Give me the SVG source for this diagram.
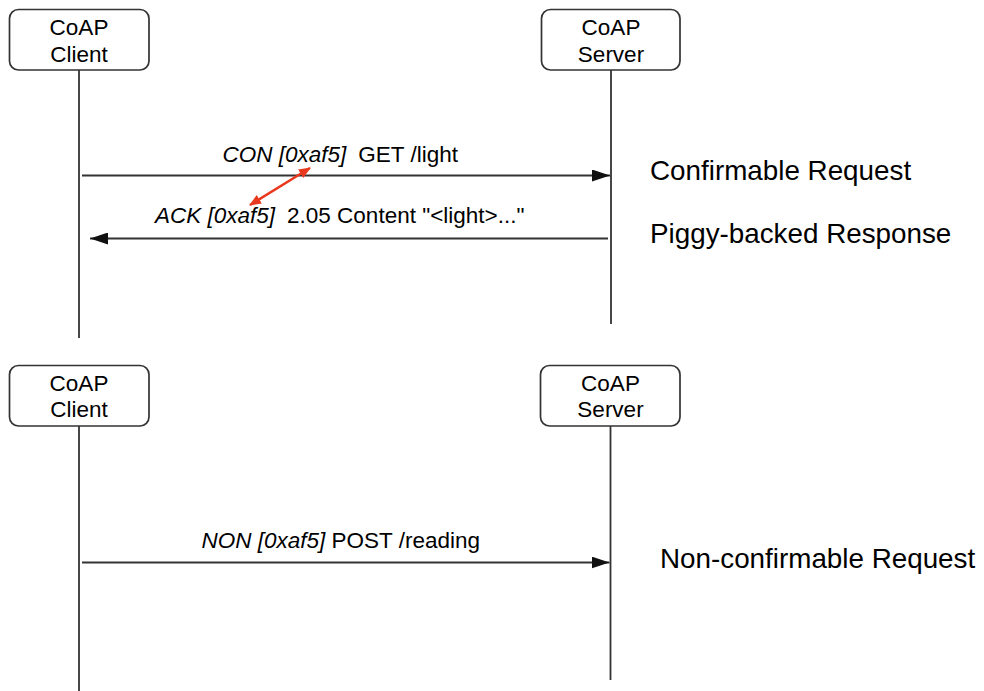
<svg xmlns="http://www.w3.org/2000/svg" width="984" height="691" viewBox="0 0 984 691">
<defs>
<style>
.box{fill:#fff;stroke:#333;stroke-width:1.7}
.life{stroke:#333;stroke-width:1.8;fill:none}
.msg{stroke:#333;stroke-width:1.8;fill:none}
.nt{font-family:"Liberation Sans",Arial,sans-serif;font-size:22.5px;fill:#000;text-anchor:middle}
.ml{font-family:"Liberation Sans",Arial,sans-serif;font-size:22.5px;fill:#000}
.it{font-style:italic}
.side{font-family:"Liberation Sans",Arial,sans-serif;font-size:27.8px;fill:#000}
</style>
<marker id="ah" viewBox="0 0 18 12" refX="18" refY="6" markerWidth="18" markerHeight="12" markerUnits="userSpaceOnUse" orient="auto">
<path d="M0,0 L18,6 L0,12 Z" fill="#111"/>
</marker>
<marker id="rh" viewBox="0 0 12 10" refX="11" refY="5" markerWidth="12" markerHeight="10" markerUnits="userSpaceOnUse" orient="auto-start-reverse">
<path d="M0,0 L12,5 L0,10 Z" fill="#e8391e"/>
</marker>
</defs>

<g id="client-top">
<rect class="box" x="9.5" y="9.5" width="139.5" height="60.5" rx="9"/>
<text class="nt" x="79" y="35">CoAP</text>
<text class="nt" x="79" y="62">Client</text>
</g>
<g id="server-top">
<rect class="box" x="541.5" y="9.5" width="138.5" height="60.5" rx="9"/>
<text class="nt" x="611" y="35">CoAP</text>
<text class="nt" x="611" y="62">Server</text>
</g>
<g id="client-bottom">
<rect class="box" x="9.5" y="365.5" width="139.5" height="60.5" rx="9"/>
<text class="nt" x="79" y="391">CoAP</text>
<text class="nt" x="79" y="417">Client</text>
</g>
<g id="server-bottom">
<rect class="box" x="540.5" y="365.5" width="139.5" height="60.5" rx="9"/>
<text class="nt" x="610.5" y="391">CoAP</text>
<text class="nt" x="610.5" y="417">Server</text>
</g>

<g id="connectors">
<line class="life" x1="79" y1="70" x2="79" y2="338"/>
<line class="life" x1="611" y1="70" x2="611" y2="324"/>
<line class="life" x1="79" y1="426" x2="79" y2="691"/>
<line class="life" x1="610.5" y1="426" x2="610.5" y2="680"/>
<line class="msg" x1="82" y1="175.5" x2="610" y2="175.5" marker-end="url(#ah)"/>
<line class="msg" x1="608" y1="238.5" x2="90" y2="238.5" marker-end="url(#ah)"/>
<line class="msg" x1="82" y1="562.5" x2="609.5" y2="562.5" marker-end="url(#ah)"/>
<line x1="310" y1="168" x2="250" y2="205" stroke="#e8391e" stroke-width="2.5" marker-start="url(#rh)" marker-end="url(#rh)"/>
</g>

<g id="labels">
<text class="ml" x="222.5" y="161.5"><tspan class="it">CON [0xaf5]</tspan><tspan dx="12">GET /light</tspan></text>
<text class="ml" x="155" y="223"><tspan class="it">ACK [0xaf5]</tspan><tspan dx="12">2.05 Content "&lt;light&gt;..."</tspan></text>
<text class="ml" x="201.5" y="548"><tspan class="it">NON [0xaf5]</tspan> POST /reading</text>
<text class="side" x="650" y="180">Confirmable Request</text>
<text class="side" x="650" y="243">Piggy-backed Response</text>
<text class="side" x="660" y="568">Non-confirmable Request</text>
</g>
</svg>
